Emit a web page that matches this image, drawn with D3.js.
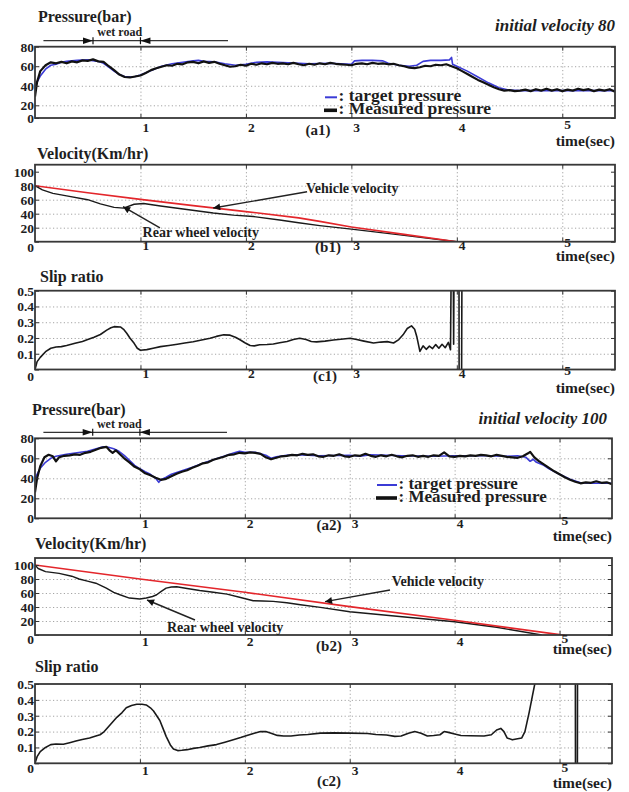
<!DOCTYPE html>
<html>
<head>
<meta charset="utf-8">
<script src="https://cdn.jsdelivr.net/npm/d3@7"></script>
<style>
body { margin: 0; background: #fff; }
svg text { font-family: "Liberation Serif", "Times New Roman", serif; font-weight: bold; fill: #1e1e1e; }
.title { font-size: 16px; }
.tick text { font-size: 13.5px; }
.tag { font-size: 15px; }
.timelab { font-size: 15.5px; }
.headline { font-size: 17px; font-style: italic; }
.legend { font-size: 17px; }
.note { font-size: 14px; }
.wet { font-size: 12px; }
.grid line { stroke: #a4a4a4; stroke-dasharray: 1.2,2.4; }
</style>
</head>
<body>
<script>
///////////////////   Data   /////////////////

var timeDomain = [0, 5.5];
var xTicks = [1, 2, 3, 4, 5];
var pressureTicks = [0, 20, 40, 60, 80];
var velocityTicks = [0, 20, 40, 60, 80, 100];
var slipTicks = [0, 0.1, 0.2, 0.3, 0.4, 0.5];

// wet road stretch and its arrow span (sec)
var wetRoad = [0.55, 1.0];
var wetArrowSpan = [0.08, 1.83];

// initial velocity 80
var targetPressure80 = [[0,40],[0.05,50],[0.1,57],[0.15,61],[0.2,62],[0.25,64],[0.3,65],[0.4,66],[0.5,66.5],[0.6,65],[0.65,63],[0.7,59],[0.75,55],[0.8,51.5],[0.85,49.5],[0.9,49],[0.95,49.5],[1.0,51],[1.1,55.5],[1.2,60],[1.3,62.5],[1.4,64],[1.5,65.5],[1.55,66],[1.6,65],[1.7,64.5],[1.8,62.5],[1.9,61],[2.0,62],[2.1,64],[2.2,64.5],[2.3,64],[2.4,63.5],[2.5,63],[2.6,62.5],[2.8,63],[3.0,62],[3.03,65.5],[3.1,66],[3.2,66],[3.3,65.5],[3.35,63],[3.45,61],[3.55,60],[3.62,61],[3.68,65],[3.75,66],[3.85,66],[3.93,66.5],[3.95,69],[3.96,62],[4.0,60],[4.1,55],[4.2,49],[4.3,43],[4.4,38],[4.5,35.5],[4.6,35],[5.5,35]];
var measuredPressure80 = [[0,29],[0.02,44],[0.05,55],[0.1,61],[0.15,64],[0.2,63],[0.25,64.5],[0.3,63],[0.35,65],[0.4,64],[0.45,66],[0.5,65.5],[0.55,67],[0.6,65],[0.65,64.5],[0.7,60],[0.75,56],[0.8,51.5],[0.85,49],[0.9,48.5],[0.95,49.5],[1.0,50.5],[1.05,53],[1.1,56],[1.15,58],[1.2,59.5],[1.25,61],[1.3,60.5],[1.35,62.5],[1.4,62],[1.45,64],[1.5,64.5],[1.55,63],[1.6,65],[1.65,63.5],[1.7,64.5],[1.75,62.5],[1.8,61],[1.85,59.5],[1.9,60],[1.95,61.5],[2.0,60.5],[2.05,62.5],[2.1,61.5],[2.15,63],[2.2,62],[2.25,63.5],[2.3,62.5],[2.35,63],[2.4,62],[2.45,63.5],[2.5,62],[2.55,61],[2.6,62.5],[2.65,61.5],[2.7,63],[2.75,62],[2.8,63.5],[2.85,62.5],[2.9,62],[2.95,61.5],[3.0,61],[3.05,62.5],[3.1,63],[3.15,62],[3.2,63.5],[3.25,62.5],[3.3,63],[3.35,62],[3.4,62.5],[3.45,61],[3.5,60],[3.55,58.5],[3.6,58],[3.65,59],[3.7,60.5],[3.75,60],[3.8,61.5],[3.85,61],[3.9,62],[3.95,60],[4.0,58],[4.05,55],[4.1,52],[4.15,49],[4.2,46],[4.25,43.5],[4.3,41],[4.35,38.5],[4.4,36.5],[4.45,35],[4.5,35.5],[4.55,34.5],[4.6,35],[4.65,36],[4.7,34.5],[4.75,36.5],[4.8,35],[4.85,37],[4.9,35],[4.95,36.5],[5.0,34.5],[5.05,36],[5.1,35],[5.15,37],[5.2,35.5],[5.25,36.5],[5.3,34.5],[5.35,36],[5.4,35],[5.45,36.5],[5.5,34]];
var vehicleVelocity80 = [[0,80],[0.5,70],[1.0,60.5],[1.5,51.5],[2.0,43],[2.5,34],[2.7,29],[3.0,21],[3.5,10.5],[4.0,0]];
var wheelVelocity80 = [[0,80],[0.07,74],[0.17,69],[0.3,65.5],[0.5,60],[0.62,54],[0.75,49],[0.84,48],[0.94,53.5],[1.03,54.5],[1.19,51],[1.44,46],[1.69,41],[1.88,38],[2.07,36],[2.32,31],[2.5,27],[2.7,23],[3.0,18],[3.5,9],[4.0,0]];
var slipRatio80 = [[0,0],[0.02,0.05],[0.05,0.077],[0.1,0.113],[0.15,0.135],[0.2,0.143],[0.25,0.145],[0.3,0.152],[0.38,0.166],[0.45,0.178],[0.5,0.19],[0.56,0.205],[0.62,0.222],[0.68,0.25],[0.72,0.265],[0.75,0.272],[0.81,0.27],[0.84,0.255],[0.87,0.23],[0.9,0.2],[0.94,0.166],[0.97,0.135],[1.0,0.122],[1.06,0.126],[1.12,0.135],[1.19,0.145],[1.27,0.152],[1.35,0.16],[1.42,0.168],[1.5,0.176],[1.58,0.187],[1.66,0.198],[1.72,0.21],[1.79,0.22],[1.85,0.218],[1.9,0.205],[1.94,0.19],[1.99,0.17],[2.04,0.152],[2.08,0.15],[2.13,0.157],[2.2,0.159],[2.26,0.162],[2.32,0.17],[2.39,0.178],[2.45,0.19],[2.51,0.198],[2.57,0.19],[2.62,0.178],[2.67,0.175],[2.75,0.18],[2.83,0.187],[2.9,0.192],[2.99,0.198],[3.05,0.19],[3.12,0.18],[3.21,0.168],[3.28,0.174],[3.34,0.177],[3.4,0.168],[3.45,0.19],[3.49,0.22],[3.53,0.26],[3.57,0.277],[3.6,0.255],[3.62,0.21],[3.65,0.115],[3.68,0.15],[3.71,0.128],[3.74,0.148],[3.77,0.133],[3.8,0.158],[3.83,0.135],[3.86,0.16],[3.89,0.138],[3.92,0.172],[3.94,0.125],[3.95,0.9],[3.965,0.9],[3.97,0.16],[3.975,0.9],[4.02,0.9],[4.022,-0.1],[4.045,-0.1],[4.05,0.9]];

// initial velocity 100
var targetPressure100 = [[0,40],[0.05,50],[0.1,56],[0.15,60],[0.2,62],[0.3,64],[0.4,65.5],[0.5,67],[0.6,70],[0.65,71.5],[0.7,71],[0.75,69.5],[0.8,67],[0.85,63],[0.9,58],[0.95,53],[1.0,49.5],[1.05,46.5],[1.1,44],[1.15,40],[1.18,36],[1.2,38.5],[1.25,41],[1.3,44],[1.4,47.5],[1.5,51],[1.6,55],[1.7,58.5],[1.8,62],[1.9,65.5],[1.95,67],[2.0,66],[2.1,66],[2.2,63],[2.25,60],[2.3,61.5],[2.4,63],[2.5,63.5],[2.7,62.5],[3.0,63],[3.1,62],[3.2,63.5],[3.5,62.5],[3.8,62],[4.0,62.5],[4.3,62.5],[4.5,62],[4.6,62.5],[4.68,61],[4.72,57],[4.75,59],[4.78,56],[4.85,53],[4.9,49.5],[5.0,44],[5.1,39],[5.2,35.5],[5.3,35],[5.5,35]];
var measuredPressure100 = [[0,26],[0.02,40],[0.05,52],[0.09,61],[0.13,63.5],[0.17,62],[0.2,57],[0.23,61],[0.28,62.5],[0.33,63],[0.38,64],[0.43,63.5],[0.48,65.5],[0.53,66.5],[0.58,68.5],[0.63,70.5],[0.68,71.5],[0.71,68],[0.74,65.5],[0.77,68],[0.8,65],[0.85,60],[0.9,56],[0.95,51.5],[1.0,49],[1.05,45],[1.1,43],[1.15,40.5],[1.2,38.5],[1.25,39.5],[1.3,42],[1.35,44.5],[1.4,46.5],[1.45,48],[1.5,50.5],[1.55,52.5],[1.6,55],[1.65,56],[1.7,58.5],[1.75,60],[1.8,61.5],[1.85,63.5],[1.9,64],[1.95,65.5],[2.0,65],[2.05,66],[2.1,65.5],[2.15,64.5],[2.2,61],[2.25,59],[2.3,60.5],[2.35,62],[2.4,62.5],[2.45,63.5],[2.5,63],[2.55,64.5],[2.6,63.5],[2.65,64],[2.7,62],[2.75,61.5],[2.8,63],[2.85,62.5],[2.9,64],[2.95,62],[3.0,61.5],[3.05,63],[3.1,62.5],[3.15,64.5],[3.2,62.5],[3.25,61.5],[3.3,63],[3.35,62],[3.4,63.5],[3.45,62],[3.5,61],[3.55,62.5],[3.6,63],[3.65,61.5],[3.7,62.5],[3.75,61.5],[3.8,63],[3.85,62.5],[3.9,66],[3.95,62],[4.0,61.5],[4.05,62.5],[4.1,62],[4.15,63],[4.2,62.5],[4.25,63.5],[4.3,63],[4.35,62],[4.4,63.5],[4.45,62.5],[4.5,61.5],[4.55,61],[4.6,60.5],[4.65,62],[4.7,65],[4.72,66.5],[4.76,61],[4.8,57.5],[4.85,54],[4.9,50.5],[4.95,47],[5.0,44],[5.05,41],[5.1,38.5],[5.15,36.5],[5.2,35],[5.25,36],[5.3,35.5],[5.35,37],[5.4,35.5],[5.45,36],[5.5,34]];
var vehicleVelocity100 = [[0,100],[1,80],[2,61],[3,40.5],[4,21],[5,0.5],[5.05,0]];
var wheelVelocity100 = [[0,100],[0.03,95],[0.1,90.5],[0.23,88],[0.35,84],[0.42,80],[0.5,77],[0.58,74],[0.68,67],[0.75,61],[0.81,57.5],[0.9,52.8],[1.0,51.4],[1.06,52.8],[1.12,55],[1.16,57.5],[1.2,62],[1.25,67],[1.3,68.5],[1.35,69],[1.45,66.5],[1.57,63.6],[1.7,61],[1.83,58.4],[1.95,54],[2.08,49],[2.17,48.5],[2.27,48],[2.4,46],[2.53,43.3],[2.72,39.5],[3.0,33.3],[3.5,26],[4.0,19],[4.4,11],[4.83,0]];
var slipRatio100 = [[0,0],[0.02,0.042],[0.05,0.074],[0.1,0.1],[0.15,0.118],[0.2,0.122],[0.27,0.12],[0.33,0.13],[0.39,0.14],[0.45,0.15],[0.52,0.16],[0.58,0.172],[0.62,0.18],[0.66,0.2],[0.7,0.23],[0.74,0.26],[0.78,0.29],[0.83,0.32],[0.87,0.35],[0.92,0.365],[0.97,0.372],[1.02,0.372],[1.06,0.368],[1.1,0.35],[1.13,0.33],[1.16,0.3],[1.19,0.27],[1.22,0.22],[1.25,0.17],[1.29,0.116],[1.32,0.09],[1.36,0.08],[1.4,0.082],[1.45,0.086],[1.51,0.094],[1.57,0.1],[1.65,0.11],[1.73,0.118],[1.81,0.133],[1.89,0.148],[1.96,0.162],[2.02,0.175],[2.09,0.19],[2.15,0.2],[2.2,0.2],[2.25,0.19],[2.31,0.176],[2.37,0.172],[2.44,0.172],[2.52,0.178],[2.6,0.182],[2.72,0.19],[2.85,0.192],[3.0,0.19],[3.17,0.188],[3.25,0.182],[3.35,0.178],[3.43,0.17],[3.49,0.172],[3.56,0.19],[3.62,0.2],[3.68,0.19],[3.74,0.172],[3.8,0.175],[3.86,0.18],[3.9,0.2],[3.94,0.195],[4.0,0.185],[4.06,0.175],[4.15,0.174],[4.28,0.172],[4.35,0.18],[4.4,0.21],[4.44,0.22],[4.47,0.2],[4.5,0.16],[4.55,0.148],[4.6,0.155],[4.64,0.16],[4.67,0.2],[4.69,0.26],[4.71,0.32],[4.74,0.42],[4.77,0.52],[4.8,0.9],[5.15,0.9],[5.152,-0.1],[5.17,-0.1],[5.172,0.9]];

///////////////////   Layout   /////////////////

var colors = { target: "#3b3bd6", measured: "#111", vehicle: "#e3262b", wheel: "#1a1a1a", slip: "#1a1a1a" };

var panels = [
  { name: "a1", left: 35, right: 615, top: 46.7, bottom: 118, yDomain: [7, 80],
    yTicks: [7, 20, 40, 60, 80], yLabels: ["0","20","40","60","80"], zeroDy: 0, xLabelBase: 132,
    title: "Pressure(bar)", titleX: 38, titleY: 22, tag: "(a1)", tagX: 318, tagY: 135, timeY: 146,
    series: [ {data: targetPressure80, color: colors.target, width: 1.6},
              {data: measuredPressure80, color: colors.measured, width: 2.2} ] },
  { name: "b1", left: 35, right: 615, top: 164.7, bottom: 241.7, yDomain: [0, 110],
    yTicks: velocityTicks, yLabels: velocityTicks.map(String), zeroDy: 5, xLabelBase: 250,
    title: "Velocity(Km/hr)", titleX: 37, titleY: 159, tag: "(b1)", tagX: 328, tagY: 252, timeY: 261,
    series: [ {data: wheelVelocity80, color: colors.wheel, width: 1.4},
              {data: vehicleVelocity80, color: colors.vehicle, width: 1.6} ] },
  { name: "c1", left: 35, right: 615, top: 290.7, bottom: 369.5, yDomain: [0, 0.5],
    yTicks: slipTicks, yLabels: slipTicks.map(String), zeroDy: 7, xLabelBase: 378,
    title: "Slip ratio", titleX: 40, titleY: 282, tag: "(c1)", tagX: 325, tagY: 381, timeY: 393,
    series: [ {data: slipRatio80, color: colors.slip, width: 1.6} ] },
  { name: "a2", left: 35, right: 612, top: 438.3, bottom: 518.3, yDomain: [0, 80],
    yTicks: pressureTicks, yLabels: pressureTicks.map(String), zeroDy: 0, xLabelBase: 528,
    title: "Pressure(bar)", titleX: 32, titleY: 415, tag: "(a2)", tagX: 329, tagY: 530, timeY: 541,
    series: [ {data: targetPressure100, color: colors.target, width: 1.6},
              {data: measuredPressure100, color: colors.measured, width: 2.2} ] },
  { name: "b2", left: 35, right: 612, top: 558, bottom: 635, yDomain: [0, 110],
    yTicks: velocityTicks, yLabels: velocityTicks.map(String), zeroDy: 4, xLabelBase: 646,
    title: "Velocity(Km/hr)", titleX: 35, titleY: 549, tag: "(b2)", tagX: 329, tagY: 651, timeY: 654,
    series: [ {data: wheelVelocity100, color: colors.wheel, width: 1.4},
              {data: vehicleVelocity100, color: colors.vehicle, width: 1.6} ] },
  { name: "c2", left: 35, right: 612, top: 684, bottom: 763.3, yDomain: [0, 0.5],
    yTicks: slipTicks, yLabels: slipTicks.map(String), zeroDy: 5, xLabelBase: 775,
    title: "Slip ratio", titleX: 35, titleY: 672, tag: "(c2)", tagX: 329, tagY: 786, timeY: 788,
    series: [ {data: slipRatio100, color: colors.slip, width: 1.6} ] }
];

// annotation arrows in data coordinates: [time, velocity]
var velocityNotes = {
  b1: [ {text: "Vehicle velocity", at: [2.57, 69.6], tail: [2.58, 71.4], tip: [1.69, 48.1]},
        {text: "Rear wheel velocity", at: [1.02, 6.7], tail: [1.185, 19.6], tip: [0.835, 50]} ],
  b2: [ {text: "Vehicle velocity", at: [3.40, 70], tail: [3.384, 64.3], tip: [2.765, 47.6]},
        {text: "Rear wheel velocity", at: [1.258, 4.3], tail: [1.525, 21.4], tip: [1.068, 50]} ]
};

///////////////////   Rendering   /////////////////

var svg = d3.select("body").append("svg").attr("width", 629).attr("height", 792);
svg.append("rect").attr("width", 629).attr("height", 792).attr("fill", "#fff");
var defs = svg.append("defs");

defs.append("marker").attr("id", "head")
  .attr("viewBox", "0 0 10 10").attr("refX", 10).attr("refY", 5)
  .attr("markerUnits", "userSpaceOnUse").attr("markerWidth", 11).attr("markerHeight", 7)
  .attr("orient", "auto")
  .append("path").attr("d", "M0,0L10,5L0,10Z").attr("fill", "#111");

var scales = {};
panels.forEach(drawPanel);

function drawPanel(p) {
  var x = d3.scaleLinear().domain(timeDomain).range([p.left, p.right]);
  var y = d3.scaleLinear().domain(p.yDomain).range([p.bottom, p.top]);
  var w = p.right - p.left, h = p.bottom - p.top;
  scales[p.name] = {x: x, y: y};
  var g = svg.append("g").attr("class", "panel").attr("color", "#333");

  defs.append("clipPath").attr("id", "clip-" + p.name)
    .append("rect").attr("x", p.left).attr("y", p.top).attr("width", w).attr("height", h);

  // dotted grid
  g.append("g").attr("class", "grid").attr("transform", "translate(0," + p.bottom + ")")
    .call(d3.axisBottom(x).tickValues(xTicks).tickSize(-h).tickFormat(""));
  g.append("g").attr("class", "grid").attr("transform", "translate(" + p.left + ",0)")
    .call(d3.axisLeft(y).tickValues(p.yTicks.slice(1, -1)).tickSize(-w).tickFormat(""));
  g.selectAll(".grid .domain").remove();

  // curves
  var line = d3.line().x(function(d) { return x(d[0]); }).y(function(d) { return y(d[1]); });
  p.series.forEach(function(s) {
    g.append("path").datum(s.data)
      .attr("clip-path", "url(#clip-" + p.name + ")")
      .attr("d", line)
      .attr("fill", "none").attr("stroke", s.color).attr("stroke-width", s.width)
      .attr("stroke-linejoin", "round");
  });

  // frame
  g.append("rect").attr("x", p.left).attr("y", p.top).attr("width", w).attr("height", h)
    .attr("fill", "none").attr("stroke", "#383838").attr("stroke-width", 1.8);

  // axes, ticks pointing inward like the original plots
  var ax = g.append("g").attr("transform", "translate(0," + p.bottom + ")")
    .call(d3.axisBottom(x).tickValues(xTicks).tickFormat(d3.format("d"))
      .tickSizeInner(-4).tickSizeOuter(0));
  ax.select(".domain").remove();
  // the last label ("5") sits a little higher in the original
  ax.selectAll("text").attr("text-anchor", "start").attr("dx", 1.5)
    .attr("y", function(d) { return p.xLabelBase - p.bottom - (d === 5 ? 3 : 0); }).attr("dy", 0);

  var ay = g.append("g").attr("transform", "translate(" + p.left + ",0)")
    .call(d3.axisLeft(y).tickValues(p.yTicks)
      .tickFormat(function(d, i) { return p.yLabels[i]; })
      .tickSizeInner(-4).tickSizeOuter(0).tickPadding(1));
  ay.select(".domain").remove();
  ay.selectAll("text").attr("dy", function(d, i) { return i === 0 ? (0.32 * 13.5 + p.zeroDy) + "px" : "0.32em"; });

  var ar = g.append("g").attr("transform", "translate(" + p.right + ",0)")
    .call(d3.axisRight(y).tickValues(p.yTicks).tickSizeInner(-4).tickSizeOuter(0).tickFormat(""));
  ar.select(".domain").remove();
  var at = g.append("g").attr("transform", "translate(0," + p.top + ")")
    .call(d3.axisTop(x).tickValues(xTicks).tickSizeInner(-4).tickSizeOuter(0).tickFormat(""));
  at.select(".domain").remove();

  // labels
  g.append("text").attr("class", "title").attr("x", p.titleX).attr("y", p.titleY).text(p.title);
  g.append("text").attr("class", "tag").attr("x", p.tagX).attr("y", p.tagY)
    .attr("text-anchor", "middle").text(p.tag);
  g.append("text").attr("class", "timelab").attr("x", p.right).attr("y", p.timeY)
    .attr("text-anchor", "end").text("time(sec)");
}

// pressure panels: headline, wet road span, legend
[["a1", "initial velocity 80", 615, 31, 325, 97.3, 17.5],
 ["a2", "initial velocity 100", 607, 424, 377, 485, 17]].forEach(function(c) {
  var s = scales[c[0]], p = panels.filter(function(d) { return d.name === c[0]; })[0];
  svg.append("text").attr("class", "headline").attr("x", c[2]).attr("y", c[3])
    .attr("text-anchor", "end").text(c[1]);

  var ay = p.top - 6, x0 = s.x(wetRoad[0]), x1 = s.x(wetRoad[1]);
  var wet = svg.append("g").attr("color", "#333");
  wet.append("line").attr("x1", s.x(wetArrowSpan[0])).attr("x2", s.x(wetArrowSpan[1]))
    .attr("y1", ay).attr("y2", ay).attr("stroke", "#333").attr("stroke-width", 1.3);
  wet.append("path").attr("d", "M" + x0 + "," + ay + "L" + (x0 - 10) + "," + (ay - 3.2) + "L" + (x0 - 10) + "," + (ay + 3.2) + "Z").attr("fill", "#111");
  wet.append("path").attr("d", "M" + x1 + "," + ay + "L" + (x1 + 10) + "," + (ay - 3.2) + "L" + (x1 + 10) + "," + (ay + 3.2) + "Z").attr("fill", "#111");
  [x0, x1].forEach(function(xx) {
    wet.append("line").attr("x1", xx).attr("x2", xx).attr("y1", ay - 3.5).attr("y2", ay + 3.5)
      .attr("stroke", "#111").attr("stroke-width", 1.2);
  });
  wet.append("text").attr("class", "wet").attr("x", (x0 + x1) / 2 + 3).attr("y", ay - 4.7)
    .attr("text-anchor", "middle").text("wet road");

  var lx = c[4], ly = c[5], lw = c[0] === "a1" ? 12 : 20;
  svg.append("line").attr("x1", lx).attr("x2", lx + lw).attr("y1", ly).attr("y2", ly)
    .attr("stroke", colors.target).attr("stroke-width", 2);
  svg.append("line").attr("x1", lx - 1).attr("x2", lx + lw).attr("y1", ly + 13).attr("y2", ly + 13)
    .attr("stroke", "#111").attr("stroke-width", 3.6);
  svg.append("text").attr("class", "legend").style("font-size", c[6] + "px")
    .attr("x", lx + lw + 1.5).attr("y", ly + 3.5).text(": target pressure");
  svg.append("text").attr("class", "legend").style("font-size", c[6] + "px")
    .attr("x", lx + lw + 1.5).attr("y", ly + 16.5).text(": Measured pressure");
});

// velocity annotations
Object.keys(velocityNotes).forEach(function(k) {
  var s = scales[k];
  velocityNotes[k].forEach(function(n) {
    svg.append("line")
      .attr("x1", s.x(n.tail[0])).attr("y1", s.y(n.tail[1]))
      .attr("x2", s.x(n.tip[0])).attr("y2", s.y(n.tip[1]))
      .attr("stroke", "#222").attr("stroke-width", 1.4).attr("marker-end", "url(#head)");
    svg.append("text").attr("class", "note").attr("x", s.x(n.at[0])).attr("y", s.y(n.at[1])).text(n.text);
  });
});
</script>
</body>
</html>
